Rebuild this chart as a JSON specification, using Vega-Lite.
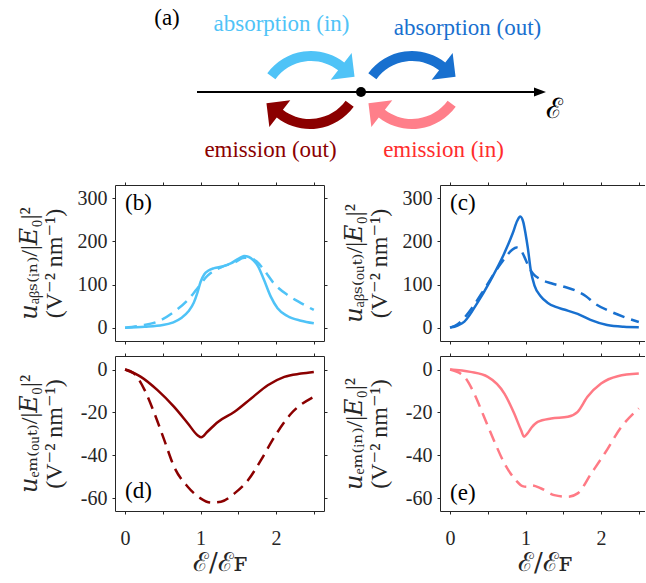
{
"$schema": "https://vega.github.io/schema/vega-lite/v6.json",
"background": "white",
"padding": {"left": 16, "top": 0, "right": 0, "bottom": 0},
"config": {
  "view": {"stroke": null},
  "font": "Liberation Serif, Times New Roman, serif",
  "text": {"font": "Liberation Serif, Times New Roman, serif"},
  "style": {"guide-label": {"font": "Liberation Serif, Times New Roman, serif", "fontSize": 20}},
  "axis": {"grid": false, "domainColor": "#262626", "domainWidth": 1, "tickColor": "#262626", "tickWidth": 1, "tickSize": 3,
           "labelFont": "Liberation Serif, Times New Roman, serif", "labelFontSize": 20, "labelColor": "#262626", "labelPadding": 5, "labelFlush": false, "labelOverlap": false,
           "titleFont": "Liberation Serif, DejaVu Serif, serif", "titleFontWeight": "normal", "titleColor": "#262626"}
},
"datasets": {
  "energyAxis": [{"e": -1.64, "e2": 1.74, "level": 0}],
  "axisTip": [{"e": 1.79, "level": 0}],
  "fermi": [{"e": 0, "level": 0}],
  "transitions": [
    {"e": -0.50, "level": 0.27, "process": "absorption (in)", "kind": "absorption"},
    {"e": 0.51, "level": 0.27, "process": "absorption (out)", "kind": "absorption"},
    {"e": -0.51, "level": -0.23, "process": "emission (out)", "kind": "emission"},
    {"e": 0.51, "level": -0.23, "process": "emission (in)", "kind": "emission"}
  ],
  "transitionLabels": [
    {"e": -0.795, "level": 0.61, "label": "absorption (in)"},
    {"e": 1.065, "level": 0.57, "label": "absorption (out)"},
    {"e": -0.905, "level": -0.65, "label": "emission (out)"},
    {"e": 0.825, "level": -0.65, "label": "emission (in)"}
  ],
  "diagramTags": [{"e": -1.94, "level": 0.74, "tag": "(a)"}],
  "energySymbol": [{"e": 1.93, "level": -0.18, "tag": "ℰ"}],
  "absIn": [
    {"e":0,"u":0,"case":"I"},{"e":0.26,"u":2,"case":"I"},{"e":0.5,"u":6,"case":"I"},{"e":0.74,"u":22,"case":"I"},{"e":0.84,"u":38,"case":"I"},
    {"e":0.91,"u":58,"case":"I"},{"e":0.96,"u":82,"case":"I"},{"e":1.0,"u":106,"case":"I"},{"e":1.05,"u":124,"case":"I"},{"e":1.1,"u":132,"case":"I"},
    {"e":1.18,"u":138,"case":"I"},{"e":1.29,"u":142,"case":"I"},{"e":1.4,"u":149,"case":"I"},{"e":1.51,"u":161,"case":"I"},{"e":1.58,"u":166,"case":"I"},
    {"e":1.64,"u":164,"case":"I"},{"e":1.7,"u":156,"case":"I"},{"e":1.76,"u":143,"case":"I"},{"e":1.84,"u":111,"case":"I"},{"e":1.93,"u":72,"case":"I"},
    {"e":2.02,"u":45,"case":"I"},{"e":2.15,"u":27,"case":"I"},{"e":2.33,"u":16,"case":"I"},{"e":2.5,"u":10,"case":"I"},
    {"e":0,"u":0,"case":"II"},{"e":0.21,"u":5,"case":"II"},{"e":0.43,"u":14,"case":"II"},{"e":0.65,"u":37,"case":"II"},{"e":0.83,"u":64,"case":"II"},
    {"e":0.94,"u":87,"case":"II"},{"e":1.09,"u":120,"case":"II"},{"e":1.27,"u":140,"case":"II"},{"e":1.45,"u":151,"case":"II"},{"e":1.58,"u":162,"case":"II"},
    {"e":1.66,"u":161,"case":"II"},{"e":1.74,"u":154,"case":"II"},{"e":1.84,"u":134,"case":"II"},{"e":1.97,"u":103,"case":"II"},{"e":2.15,"u":76,"case":"II"},
    {"e":2.33,"u":57,"case":"II"},{"e":2.5,"u":41,"case":"II"}
  ],
  "absOut": [
    {"e":0,"u":0,"case":"I"},{"e":0.1,"u":5,"case":"I"},{"e":0.19,"u":14,"case":"I"},{"e":0.36,"u":57,"case":"I"},{"e":0.54,"u":111,"case":"I"},
    {"e":0.72,"u":173,"case":"I"},{"e":0.83,"u":219,"case":"I"},{"e":0.89,"u":248,"case":"I"},{"e":0.93,"u":258,"case":"I"},{"e":0.97,"u":245,"case":"I"},
    {"e":1.0,"u":218,"case":"I"},{"e":1.03,"u":185,"case":"I"},{"e":1.07,"u":132,"case":"I"},{"e":1.12,"u":97,"case":"I"},{"e":1.2,"u":73,"case":"I"},
    {"e":1.29,"u":58,"case":"I"},{"e":1.4,"u":48,"case":"I"},{"e":1.51,"u":42,"case":"I"},{"e":1.69,"u":32,"case":"I"},{"e":1.86,"u":18,"case":"I"},
    {"e":2.08,"u":6,"case":"I"},{"e":2.3,"u":2,"case":"I"},{"e":2.5,"u":1,"case":"I"},
    {"e":0,"u":0,"case":"II"},{"e":0.1,"u":8,"case":"II"},{"e":0.2,"u":25,"case":"II"},{"e":0.3,"u":48,"case":"II"},{"e":0.45,"u":88,"case":"II"},
    {"e":0.6,"u":130,"case":"II"},{"e":0.72,"u":160,"case":"II"},{"e":0.82,"u":180,"case":"II"},{"e":0.88,"u":186,"case":"II"},{"e":0.93,"u":182,"case":"II"},
    {"e":0.98,"u":166,"case":"II"},{"e":1.04,"u":142,"case":"II"},{"e":1.1,"u":125,"case":"II"},{"e":1.2,"u":112,"case":"II"},{"e":1.34,"u":103,"case":"II"},
    {"e":1.51,"u":95,"case":"II"},{"e":1.69,"u":84,"case":"II"},{"e":1.8,"u":73,"case":"II"},{"e":1.91,"u":57,"case":"II"},{"e":2.13,"u":37,"case":"II"},
    {"e":2.3,"u":25,"case":"II"},{"e":2.5,"u":13,"case":"II"}
  ],
  "emOut": [
    {"e":0,"u":0,"case":"I"},{"e":0.21,"u":-3.4,"case":"I"},{"e":0.43,"u":-9.6,"case":"I"},{"e":0.65,"u":-17.4,"case":"I"},{"e":0.83,"u":-25,"case":"I"},
    {"e":0.96,"u":-30.6,"case":"I"},{"e":1.01,"u":-31.6,"case":"I"},{"e":1.09,"u":-29,"case":"I"},{"e":1.23,"u":-24.4,"case":"I"},{"e":1.45,"u":-19.7,"case":"I"},
    {"e":1.67,"u":-13.5,"case":"I"},{"e":1.89,"u":-7.3,"case":"I"},{"e":2.11,"u":-3.4,"case":"I"},{"e":2.33,"u":-1.9,"case":"I"},{"e":2.5,"u":-1.1,"case":"I"},
    {"e":0,"u":0,"case":"II"},{"e":0.12,"u":-1.9,"case":"II"},{"e":0.26,"u":-9.6,"case":"II"},{"e":0.39,"u":-20.5,"case":"II"},{"e":0.52,"u":-32.9,"case":"II"},
    {"e":0.65,"u":-45.3,"case":"II"},{"e":0.83,"u":-54.6,"case":"II"},{"e":1.0,"u":-60,"case":"II"},{"e":1.14,"u":-62,"case":"II"},{"e":1.27,"u":-61.6,"case":"II"},
    {"e":1.45,"u":-57.7,"case":"II"},{"e":1.63,"u":-51.5,"case":"II"},{"e":1.8,"u":-42.2,"case":"II"},{"e":1.98,"u":-31.3,"case":"II"},{"e":2.2,"u":-20.5,"case":"II"},
    {"e":2.5,"u":-12.7,"case":"II"}
  ],
  "emIn": [
    {"e":0,"u":0,"case":"I"},{"e":0.27,"u":-1.1,"case":"I"},{"e":0.5,"u":-3.4,"case":"I"},{"e":0.72,"u":-11.2,"case":"I"},{"e":0.85,"u":-20.5,"case":"I"},
    {"e":0.94,"u":-28.2,"case":"I"},{"e":0.98,"u":-31.3,"case":"I"},{"e":1.02,"u":-30,"case":"I"},{"e":1.08,"u":-27,"case":"I"},{"e":1.16,"u":-24.4,"case":"I"},
    {"e":1.34,"u":-22.8,"case":"I"},{"e":1.56,"u":-22,"case":"I"},{"e":1.69,"u":-19.7,"case":"I"},{"e":1.82,"u":-12.7,"case":"I"},{"e":2.0,"u":-6.5,"case":"I"},
    {"e":2.22,"u":-3.1,"case":"I"},{"e":2.5,"u":-1.9,"case":"I"},
    {"e":0,"u":0,"case":"II"},{"e":0.19,"u":-3.4,"case":"II"},{"e":0.32,"u":-11.2,"case":"II"},{"e":0.45,"u":-22,"case":"II"},{"e":0.58,"u":-32.9,"case":"II"},
    {"e":0.72,"u":-43.7,"case":"II"},{"e":0.87,"u":-51.5,"case":"II"},{"e":0.96,"u":-54.3,"case":"II"},{"e":1.02,"u":-54.6,"case":"II"},{"e":1.08,"u":-54,"case":"II"},
    {"e":1.2,"u":-55.3,"case":"II"},{"e":1.38,"u":-58.5,"case":"II"},{"e":1.56,"u":-59.3,"case":"II"},{"e":1.69,"u":-57.7,"case":"II"},{"e":1.87,"u":-48.4,"case":"II"},
    {"e":2.05,"u":-39,"case":"II"},{"e":2.27,"u":-26.7,"case":"II"},{"e":2.5,"u":-18.1,"case":"II"}
  ]
},
"columns": 2,
"spacing": {"row": 15, "column": 116},
"bounds": "flush",
"concat": [
  {
    "width": 209, "height": 170,
    "encoding": {
      "x": {"field": "e", "type": "quantitative", "scale": {"domain": [-2.46, -0.37], "nice": false, "zero": false}, "axis": null},
      "y": {"field": "level", "type": "quantitative", "scale": {"domain": [-0.78, 0.92], "nice": false, "zero": false}, "axis": null}
    },
    "layer": [
      {"data": {"name": "energyAxis"}, "mark": {"type": "rule", "color": "black", "strokeWidth": 2}, "encoding": {"x2": {"field": "e2"}}},
      {"data": {"name": "axisTip"}, "mark": {"type": "point", "shape": "M-1,-0.75L1,0L-1,0.75Z", "size": 144, "filled": true, "color": "black", "opacity": 1, "strokeWidth": 0}},
      {"data": {"name": "fermi"}, "mark": {"type": "circle", "size": 100, "color": "black", "opacity": 1}},
      {"data": {"name": "transitions"}, "transform": [{"filter": "datum.kind === 'absorption'"}],
       "mark": {"type": "point", "shape": "M-0.874,0.165C-0.702,-0.072,-0.441,-0.229,-0.150,-0.270C0.140,-0.310,0.434,-0.231,0.665,-0.051L0.813,-0.240L0.871,0.237L0.394,0.296L0.542,0.107C0.354,-0.040,0.114,-0.105,-0.122,-0.071C-0.359,-0.038,-0.572,0.090,-0.712,0.283Z", "size": 10000, "filled": true, "opacity": 1, "strokeWidth": 0, "angle": 0},
       "encoding": {"color": {"field": "process", "type": "nominal", "scale": {"domain": ["absorption (in)", "absorption (out)", "emission (out)", "emission (in)"], "range": ["#4FC3F7", "#1870CF", "#8B0000", "#FF7F8A"]}, "legend": null}}},
      {"data": {"name": "transitions"}, "transform": [{"filter": "datum.kind === 'emission'"}],
       "mark": {"type": "point", "shape": "M-0.874,0.165C-0.702,-0.072,-0.441,-0.229,-0.150,-0.270C0.140,-0.310,0.434,-0.231,0.665,-0.051L0.813,-0.240L0.871,0.237L0.394,0.296L0.542,0.107C0.354,-0.040,0.114,-0.105,-0.122,-0.071C-0.359,-0.038,-0.572,0.090,-0.712,0.283Z", "size": 10000, "filled": true, "opacity": 1, "strokeWidth": 0, "angle": 180},
       "encoding": {"color": {"field": "process", "type": "nominal", "scale": {"domain": ["absorption (in)", "absorption (out)", "emission (out)", "emission (in)"], "range": ["#4FC3F7", "#1870CF", "#8B0000", "#FF7F8A"]}, "legend": null}}},
      {"data": {"name": "transitionLabels"}, "mark": {"type": "text", "fontSize": 23, "font": "Liberation Serif, Times New Roman, serif", "align": "center", "baseline": "alphabetic"},
       "encoding": {"text": {"field": "label"}, "color": {"field": "label", "type": "nominal", "scale": {"domain": ["absorption (in)", "absorption (out)", "emission (out)", "emission (in)"], "range": ["#4FC3F7", "#1870CF", "#8B0000", "#FF2D2D"]}, "legend": null}}},
      {"data": {"name": "diagramTags"}, "mark": {"type": "text", "fontSize": 23, "font": "Liberation Serif, Times New Roman, serif", "align": "center", "baseline": "middle", "color": "black"}, "encoding": {"text": {"field": "tag"}}},
      {"data": {"name": "energySymbol"}, "mark": {"type": "text", "fontSize": 28, "font": "DejaVu Serif, serif", "align": "center", "baseline": "middle", "color": "black"}, "encoding": {"text": {"field": "tag"}}}
    ],
    "resolve": {"scale": {"color": "independent"}}
  },
  {
    "width": 205, "height": 170,
    "data": {"values": []},
    "mark": {"type": "point", "opacity": 0}
  },
  {
    "width": 209, "height": 156,
    "data": {"name": "absIn"},
    "layer": [
      {"transform": [{"filter": "datum.case === 'I'"}],
       "mark": {"type": "line", "color": "#4FC3F7", "strokeWidth": 2.5, "interpolate": "monotone"},
       "encoding": {
         "x": {"field": "e", "type": "quantitative", "scale": {"domain": [-0.133, 2.635], "nice": false, "zero": false}, "axis": {"orient": "bottom", "values": [0, 0.5, 1, 1.5, 2, 2.5], "labels": false, "title": null}},
         "y": {"field": "u", "type": "quantitative", "scale": {"domain": [-31, 331], "nice": false, "zero": false}, "axis": {"orient": "left", "values": [0, 100, 200, 300], "labelExpr": "'' + datum.value", "labelFont": "Liberation Serif, Times New Roman, serif", "title": ["𝑢ₐᵦₛ₍ᵢₙ₎/|𝐸₀|²", "\u00a0\u00a0\u00a0\u00a0\u00a0\u00a0\u00a0\u00a0(V⁻² nm⁻¹)"], "titleFontSize": 24, "titleLineHeight": 25, "titleAngle": -90, "titleX": -98, "titleY": 78, "titleAlign": "center", "titleBaseline": "top"}}
       }},
      {"transform": [{"filter": "datum.case === 'II'"}],
       "mark": {"type": "line", "color": "#4FC3F7", "strokeWidth": 2.5, "strokeDash": [12, 7], "interpolate": "monotone"},
       "encoding": {
         "x": {"field": "e", "type": "quantitative", "scale": {"domain": [-0.133, 2.635], "nice": false, "zero": false}, "axis": {"orient": "top", "values": [0, 0.5, 1, 1.5, 2, 2.5], "labels": false, "title": null}},
         "y": {"field": "u", "type": "quantitative", "scale": {"domain": [-31, 331], "nice": false, "zero": false}, "axis": {"orient": "right", "values": [0, 100, 200, 300], "labels": false, "title": null}}
       }},
      {"data": {"values": [{"tag": "(b)", "e": 0, "u": 289}]},
       "mark": {"type": "text", "align": "left", "baseline": "middle", "fontSize": 23, "font": "Liberation Serif, Times New Roman, serif", "color": "black"},
       "encoding": {
         "x": {"field": "e", "type": "quantitative", "scale": {"domain": [-0.133, 2.635], "nice": false, "zero": false}, "axis": null},
         "y": {"field": "u", "type": "quantitative", "scale": {"domain": [-31, 331], "nice": false, "zero": false}, "axis": null},
         "text": {"field": "tag"}
       }}
    ],
    "resolve": {"axis": {"x": "independent", "y": "independent"}}
  },
  {
    "width": 205, "height": 156,
    "data": {"name": "absOut"},
    "layer": [
      {"transform": [{"filter": "datum.case === 'I'"}],
       "mark": {"type": "line", "color": "#1870CF", "strokeWidth": 2.5, "interpolate": "monotone"},
       "encoding": {
         "x": {"field": "e", "type": "quantitative", "scale": {"domain": [-0.133, 2.582], "nice": false, "zero": false}, "axis": {"orient": "bottom", "values": [0, 0.5, 1, 1.5, 2, 2.5], "labels": false, "title": null}},
         "y": {"field": "u", "type": "quantitative", "scale": {"domain": [-31, 331], "nice": false, "zero": false}, "axis": {"orient": "left", "values": [0, 100, 200, 300], "labelExpr": "'' + datum.value", "labelFont": "Liberation Serif, Times New Roman, serif", "title": ["𝑢ₐᵦₛ₍ₒᵤₜ₎/|𝐸₀|²", "\u00a0\u00a0\u00a0\u00a0\u00a0\u00a0\u00a0\u00a0(V⁻² nm⁻¹)"], "titleFontSize": 24, "titleLineHeight": 25, "titleAngle": -90, "titleX": -98, "titleY": 78, "titleAlign": "center", "titleBaseline": "top"}}
       }},
      {"transform": [{"filter": "datum.case === 'II'"}],
       "mark": {"type": "line", "color": "#1870CF", "strokeWidth": 2.5, "strokeDash": [12, 7], "interpolate": "monotone"},
       "encoding": {
         "x": {"field": "e", "type": "quantitative", "scale": {"domain": [-0.133, 2.582], "nice": false, "zero": false}, "axis": {"orient": "top", "values": [0, 0.5, 1, 1.5, 2, 2.5], "labels": false, "title": null}},
         "y": {"field": "u", "type": "quantitative", "scale": {"domain": [-31, 331], "nice": false, "zero": false}, "axis": null}
       }},
      {"data": {"values": [{"tag": "(c)", "e": 0, "u": 289}]},
       "mark": {"type": "text", "align": "left", "baseline": "middle", "fontSize": 23, "font": "Liberation Serif, Times New Roman, serif", "color": "black"},
       "encoding": {
         "x": {"field": "e", "type": "quantitative", "scale": {"domain": [-0.133, 2.582], "nice": false, "zero": false}, "axis": null},
         "y": {"field": "u", "type": "quantitative", "scale": {"domain": [-31, 331], "nice": false, "zero": false}, "axis": null},
         "text": {"field": "tag"}
       }}
    ],
    "resolve": {"axis": {"x": "independent", "y": "independent"}}
  },
  {
    "width": 209, "height": 155,
    "data": {"name": "emOut"},
    "layer": [
      {"transform": [{"filter": "datum.case === 'I'"}],
       "mark": {"type": "line", "color": "#8B0000", "strokeWidth": 2.5, "interpolate": "monotone"},
       "encoding": {
         "x": {"field": "e", "type": "quantitative", "scale": {"domain": [-0.133, 2.635], "nice": false, "zero": false}, "axis": {"orient": "bottom", "values": [0, 0.5, 1, 1.5, 2, 2.5], "labelExpr": "datum.value % 1 === 0 ? '' + datum.value : ''", "labelFont": "Liberation Serif, Times New Roman, serif", "labelPadding": 14, "title": "ℰ/ℰꜰ", "titleFont": "DejaVu Serif, serif", "titleFontSize": 26, "titleY": 59, "titleBaseline": "alphabetic"}},
         "y": {"field": "u", "type": "quantitative", "scale": {"domain": [-65.9, 6.3], "nice": false, "zero": false}, "axis": {"orient": "left", "values": [-60, -40, -20, 0], "labelExpr": "'' + datum.value", "labelFont": "Liberation Serif, Times New Roman, serif", "title": ["𝑢ₑₘ₍ₒᵤₜ₎/|𝐸₀|²", "\u00a0\u00a0\u00a0\u00a0\u00a0\u00a0\u00a0\u00a0(V⁻² nm⁻¹)"], "titleFontSize": 24, "titleLineHeight": 25, "titleAngle": -90, "titleX": -98, "titleY": 77.5, "titleAlign": "center", "titleBaseline": "top"}}
       }},
      {"transform": [{"filter": "datum.case === 'II'"}],
       "mark": {"type": "line", "color": "#8B0000", "strokeWidth": 2.5, "strokeDash": [12, 7], "interpolate": "monotone"},
       "encoding": {
         "x": {"field": "e", "type": "quantitative", "scale": {"domain": [-0.133, 2.635], "nice": false, "zero": false}, "axis": {"orient": "top", "values": [0, 0.5, 1, 1.5, 2, 2.5], "labels": false, "title": null}},
         "y": {"field": "u", "type": "quantitative", "scale": {"domain": [-65.9, 6.3], "nice": false, "zero": false}, "axis": {"orient": "right", "values": [-60, -40, -20, 0], "labels": false, "title": null}}
       }},
      {"data": {"values": [{"tag": "(d)", "e": 0, "u": -56.6}]},
       "mark": {"type": "text", "align": "left", "baseline": "middle", "fontSize": 23, "font": "Liberation Serif, Times New Roman, serif", "color": "black"},
       "encoding": {
         "x": {"field": "e", "type": "quantitative", "scale": {"domain": [-0.133, 2.635], "nice": false, "zero": false}, "axis": null},
         "y": {"field": "u", "type": "quantitative", "scale": {"domain": [-65.9, 6.3], "nice": false, "zero": false}, "axis": null},
         "text": {"field": "tag"}
       }}
    ],
    "resolve": {"axis": {"x": "independent", "y": "independent"}}
  },
  {
    "width": 205, "height": 155,
    "data": {"name": "emIn"},
    "layer": [
      {"transform": [{"filter": "datum.case === 'I'"}],
       "mark": {"type": "line", "color": "#FF7A85", "strokeWidth": 2.5, "interpolate": "monotone"},
       "encoding": {
         "x": {"field": "e", "type": "quantitative", "scale": {"domain": [-0.133, 2.582], "nice": false, "zero": false}, "axis": {"orient": "bottom", "values": [0, 0.5, 1, 1.5, 2, 2.5], "labelExpr": "datum.value % 1 === 0 ? '' + datum.value : ''", "labelFont": "Liberation Serif, Times New Roman, serif", "labelPadding": 14, "title": "ℰ/ℰꜰ", "titleFont": "DejaVu Serif, serif", "titleFontSize": 26, "titleX": 104.5, "titleY": 59, "titleBaseline": "alphabetic"}},
         "y": {"field": "u", "type": "quantitative", "scale": {"domain": [-65.9, 6.3], "nice": false, "zero": false}, "axis": {"orient": "left", "values": [-60, -40, -20, 0], "labelExpr": "'' + datum.value", "labelFont": "Liberation Serif, Times New Roman, serif", "title": ["𝑢ₑₘ₍ᵢₙ₎/|𝐸₀|²", "\u00a0\u00a0\u00a0\u00a0\u00a0\u00a0\u00a0\u00a0(V⁻² nm⁻¹)"], "titleFontSize": 24, "titleLineHeight": 25, "titleAngle": -90, "titleX": -98, "titleY": 77.5, "titleAlign": "center", "titleBaseline": "top"}}
       }},
      {"transform": [{"filter": "datum.case === 'II'"}],
       "mark": {"type": "line", "color": "#FF7A85", "strokeWidth": 2.5, "strokeDash": [12, 7], "interpolate": "monotone"},
       "encoding": {
         "x": {"field": "e", "type": "quantitative", "scale": {"domain": [-0.133, 2.582], "nice": false, "zero": false}, "axis": {"orient": "top", "values": [0, 0.5, 1, 1.5, 2, 2.5], "labels": false, "title": null}},
         "y": {"field": "u", "type": "quantitative", "scale": {"domain": [-65.9, 6.3], "nice": false, "zero": false}, "axis": null}
       }},
      {"data": {"values": [{"tag": "(e)", "e": 0, "u": -57.3}]},
       "mark": {"type": "text", "align": "left", "baseline": "middle", "fontSize": 23, "font": "Liberation Serif, Times New Roman, serif", "color": "black"},
       "encoding": {
         "x": {"field": "e", "type": "quantitative", "scale": {"domain": [-0.133, 2.582], "nice": false, "zero": false}, "axis": null},
         "y": {"field": "u", "type": "quantitative", "scale": {"domain": [-65.9, 6.3], "nice": false, "zero": false}, "axis": null},
         "text": {"field": "tag"}
       }}
    ],
    "resolve": {"axis": {"x": "independent", "y": "independent"}}
  }
]
}
